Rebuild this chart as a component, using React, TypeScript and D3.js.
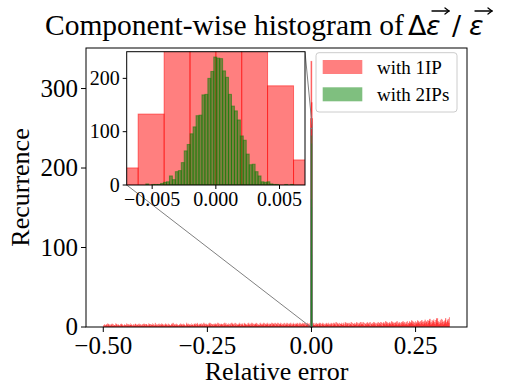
import React from 'react';
import * as d3 from 'd3';

// main histogram, 1IP: background counts of the fine bins over [-0.5, 0.332] (base-36 digits)
const noiseStart = -0.5;
const noiseEnd = 0.332;
const noise1IP = [
  '21312231423121324131221431232121342312132214312312423121321431223142132123142313',
  '31214231322413215231231421324231213423124132213425132314231223143231423121532413',
  '23142321432413521324314231523142321435241323142342315241324323142531423241324153',
  '32415241324253142342153423142532413524132435241324153242351423425314243152434251',
  '43251423524134251423524134253142531424352413524315342514325432415342352413524314',
  '35241352431425342513425314253426153425143524253164253415243625143524361524352634',
  '36251435264352614352463524153625436251463527463524635274635254637253642536475263',
  '463725473658473652746385746375846375947638579a46385794638b5b746385a4963758b4697a5c',
];
const spikeEdges1IP = [-0.0019, -0.0008, 0.0003, 0.001, 0.0019];
const spikeCounts1IP = [262, 334, 282, 262];
const spikeEdges2IP = [-0.0012, -0.0009, -0.0006, -0.0003, 0, 0.0003, 0.0006, 0.0009, 0.0012];
const spikeCounts2IP = [40, 100, 160, 240, 230, 150, 90, 30];

// inset
const insetEdges1IP = [-0.00813, -0.0061, -0.00406, -0.00203, 0, 0.00203, 0.00406, 0.0061, 0.00813];
const insetCounts1IP = [32, 133, 300, 334, 330, 290, 186, 47];
const insetStart2IP = -0.0055;
const insetStep2IP = 0.000232;
const insetCounts2IP = [
  2, 0, 1, 1, 1, 3, 5, 6, 17, 10, 25, 27, 42, 64, 76, 96, 109, 130, 131, 169, 170, 200, 213, 240,
  238, 237, 214, 202, 170, 148, 139, 122, 92, 84, 58, 38, 39, 25, 17, 6, 5, 6, 2, 1, 1, 0, 0, 1, 0, 1,
];
const insetRegion = { x0: -0.002, x1: 0.002, y0: 0, y1: 250 };

const xTicks = [-0.5, -0.25, 0, 0.25];
const yTicks = [0, 100, 200, 300];
const insetXTicks = [-0.005, 0, 0.005];
const insetYTicks = [0, 100, 200];

const RED = '#ff0000';
const GREEN = '#008000';
const SERIF = '"Liberation Serif", "Times New Roman", serif';
const SANS = '"DejaVu Sans", sans-serif';

type Bin = { x0: number; x1: number; c: number };

const Bars = ({ bins, xs, ys, color, sw = 1 }: { bins: Bin[]; xs: any; ys: any; color: string; sw?: number }) => (
  <g>
    {bins.map((b, i) => (
      <rect
        key={i}
        x={xs(b.x0)}
        y={ys(b.c)}
        width={Math.max(0, xs(b.x1) - xs(b.x0))}
        height={ys(0) - ys(b.c)}
        fill={color}
        fillOpacity={0.5}
        stroke={color}
        strokeOpacity={0.5}
        strokeWidth={sw}
      />
    ))}
  </g>
);

// small vector arrow drawn over a symbol (like \vec)
const VecArrow = ({ x0, x1, yy }: { x0: number; x1: number; yy: number }) => (
  <g stroke="#000" strokeWidth={1.3} fill="none" strokeLinecap="round">
    <line x1={x0} y1={yy} x2={x1} y2={yy} />
    <polyline points={`${x1 - 4},${yy - 3} ${x1},${yy} ${x1 - 4},${yy + 3}`} />
  </g>
);

const fmt = (d: number, p: number) => (d < 0 ? '\u2212' : '') + Math.abs(d).toFixed(p);

const App = () => {
  const x = d3.scaleLinear().domain([-0.5415, 0.3735]).range([86, 467]);
  const y = d3.scaleLinear().domain([0, 351]).range([327, 48]);
  const xi = d3.scaleLinear().domain([-0.007, 0.007]).range([126.7, 305]);
  const yi = d3.scaleLinear().domain([0, 250]).range([185, 51.7]);

  const noiseCounts = noise1IP.join('').split('').map(c => parseInt(c, 36));
  const step = (noiseEnd - noiseStart) / noiseCounts.length;
  const mainRed: Bin[] = noiseCounts.map((c, i) => ({ x0: noiseStart + i * step, x1: noiseStart + (i + 1) * step, c }));
  const spikeRed: Bin[] = spikeCounts1IP.map((c, i) => ({ x0: spikeEdges1IP[i], x1: spikeEdges1IP[i + 1], c }));
  const spikeGreen: Bin[] = spikeCounts2IP.map((c, i) => ({ x0: spikeEdges2IP[i], x1: spikeEdges2IP[i + 1], c }));
  const insetRed: Bin[] = insetCounts1IP.map((c, i) => ({ x0: insetEdges1IP[i], x1: insetEdges1IP[i + 1], c }));
  const insetGreen: Bin[] = insetCounts2IP.map((c, i) => ({
    x0: insetStart2IP + i * insetStep2IP,
    x1: insetStart2IP + (i + 1) * insetStep2IP,
    c,
  }));

  const [ml, mr] = x.range();
  const [mb, mt] = y.range();
  const [il, ir] = xi.range();
  const [ib, it] = yi.range();

  const rx0 = x(insetRegion.x0), rx1 = x(insetRegion.x1);
  const ry0 = y(insetRegion.y0), ry1 = y(insetRegion.y1);

  return (
    <svg width={511} height={388} style={{ position: 'absolute', left: 0, top: 0, background: '#fff' }}>
      <defs>
        <clipPath id="main-clip">
          <rect x={ml} y={mt} width={mr - ml} height={mb - mt} />
        </clipPath>
        <clipPath id="inset-clip">
          <rect x={il} y={it} width={ir - il} height={ib - it} />
        </clipPath>
      </defs>

      {/* title */}
      <text x={45} y={35} fontFamily={SERIF} fontSize={29.5} fill="#000">
        Component-wise histogram of
      </text>
      <text x={408} y={35} fontFamily={SANS} fontSize={27} fill="#000">
        Δ
      </text>
      <text x={426} y={35} fontFamily={SANS} fontSize={27} fontStyle="italic" fill="#000">
        ε
      </text>
      <VecArrow x0={432} x1={449} yy={11} />
      <text x={452} y={35} fontFamily={SANS} fontSize={27} fill="#000">
        /
      </text>
      <text x={469} y={35} fontFamily={SANS} fontSize={27} fontStyle="italic" fill="#000">
        ε
      </text>
      <VecArrow x0={475} x1={492} yy={11} />

      {/* main bars */}
      <g clipPath="url(#main-clip)">
        <Bars bins={mainRed} xs={x} ys={y} color={RED} sw={0.5} />
        <Bars bins={spikeRed} xs={x} ys={y} color={RED} sw={1.2} />
        <Bars bins={spikeGreen} xs={x} ys={y} color={GREEN} sw={1.5} />
      </g>

      {/* zoom indicator */}
      <rect x={rx0} y={ry1} width={rx1 - rx0} height={ry0 - ry1} fill="none" stroke="#808080" strokeWidth={1} />
      <line x1={il} y1={ib} x2={rx0} y2={ry0} stroke="#808080" strokeWidth={1} />
      <line x1={ir} y1={it} x2={rx1} y2={ry1} stroke="#808080" strokeWidth={1} />

      {/* main frame */}
      <rect x={ml} y={mt} width={mr - ml} height={mb - mt} fill="none" stroke="#000" strokeWidth={1} />

      {/* main x axis */}
      <g>
        {xTicks.map(t => (
          <g key={t} transform={`translate(${x(t)},${mb})`}>
            <line y2={5} stroke="#000" strokeWidth={1} />
            <text y={27} textAnchor="middle" fontFamily={SERIF} fontSize={25} fill="#000">
              {fmt(t, 2)}
            </text>
          </g>
        ))}
        <text x={(ml + mr) / 2} y={380} textAnchor="middle" fontFamily={SERIF} fontSize={26} fill="#000">
          Relative error
        </text>
      </g>

      {/* main y axis */}
      <g>
        {yTicks.map(t => (
          <g key={t} transform={`translate(${ml},${y(t)})`}>
            <line x2={-5} stroke="#000" strokeWidth={1} />
            <text x={-8} dy="0.33em" textAnchor="end" fontFamily={SERIF} fontSize={25} fill="#000">
              {t}
            </text>
          </g>
        ))}
        <text
          transform={`translate(29,${(mt + mb) / 2}) rotate(-90)`}
          textAnchor="middle"
          fontFamily={SERIF}
          fontSize={26}
          fill="#000"
        >
          Recurrence
        </text>
      </g>

      {/* inset */}
      <rect x={il} y={it} width={ir - il} height={ib - it} fill="#fff" />
      <g clipPath="url(#inset-clip)">
        <Bars bins={insetRed} xs={xi} ys={yi} color={RED} />
        <Bars bins={insetGreen} xs={xi} ys={yi} color={GREEN} />
      </g>
      <rect x={il} y={it} width={ir - il} height={ib - it} fill="none" stroke="#000" strokeWidth={1} />
      {insetXTicks.map(t => (
        <g key={t} transform={`translate(${xi(t)},${ib})`}>
          <line y2={4} stroke="#000" strokeWidth={1} />
          <text y={21} textAnchor="middle" fontFamily={SERIF} fontSize={20} fill="#000">
            {fmt(t, 3)}
          </text>
        </g>
      ))}
      {insetYTicks.map(t => (
        <g key={t} transform={`translate(${il},${yi(t)})`}>
          <line x2={-4} stroke="#000" strokeWidth={1} />
          <text x={-7} dy="0.33em" textAnchor="end" fontFamily={SERIF} fontSize={20} fill="#000">
            {t}
          </text>
        </g>
      ))}

      {/* legend */}
      <g>
        <rect x={316} y={52.7} width={141} height={59.3} rx={3} fill="#fff" fillOpacity={0.8} stroke="#cccccc" strokeWidth={1} />
        <rect x={322.7} y={60} width={39.6} height={14} fill={RED} fillOpacity={0.5} />
        <rect x={322.7} y={87.3} width={39.6} height={14} fill={GREEN} fillOpacity={0.5} />
        <text x={377} y={74} fontFamily={SERIF} fontSize={19} fill="#000">
          with 1IP
        </text>
        <text x={377} y={101} fontFamily={SERIF} fontSize={19} fill="#000">
          with 2IPs
        </text>
      </g>
    </svg>
  );
};

export default App;
